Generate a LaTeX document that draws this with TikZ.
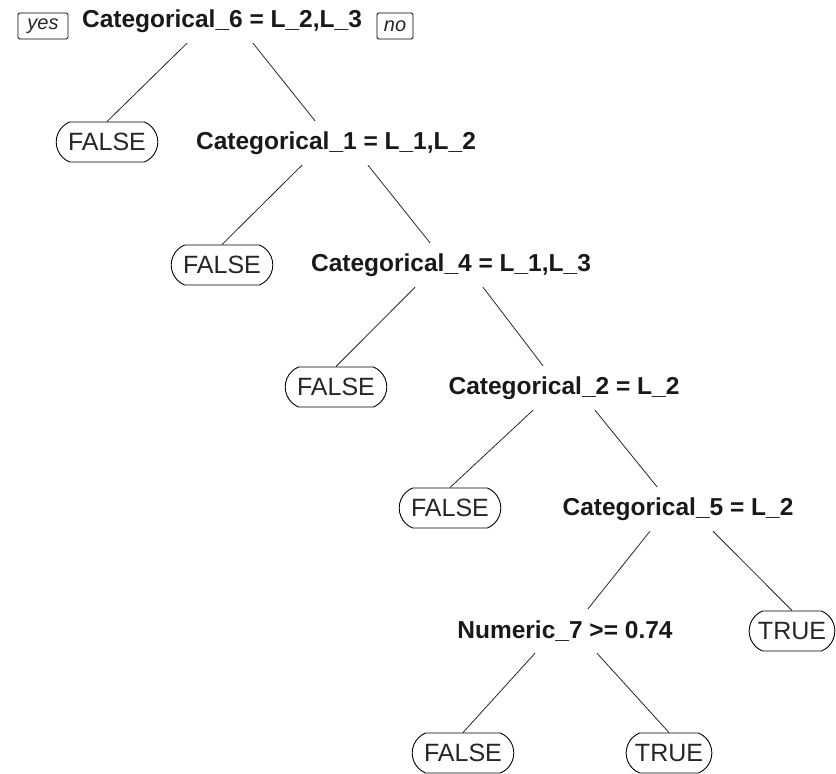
\documentclass[tikz,border=0pt]{standalone}
\usepackage{fontspec}
\setmainfont{Liberation Sans}
\usetikzlibrary{shapes.misc}
\begin{document}
\begin{tikzpicture}[x=1pt,y=-1pt,
  split/.style={font=\fontsize{24.5}{29}\selectfont\bfseries, inner sep=0pt, minimum height=44pt, text=black!90},
  leaf/.style={draw, line width=0.9pt, rounded rectangle, rounded rectangle arc length=135,
    font=\fontsize{25}{29}\selectfont, inner xsep=10pt, inner ysep=0pt, minimum height=40pt, text=black!85},
  leaft/.style={leaf, inner xsep=7pt},
  yn/.style={draw, line width=0.9pt, rounded corners=1.5pt, font=\fontsize{20}{22}\selectfont\itshape,
    minimum height=26pt, inner xsep=0pt, inner ysep=0pt, text=black!85},
  conn/.style={line width=0.8pt, black!85}
]
\useasboundingbox (0,0) rectangle (836,774);
% split nodes
\node[split] (root) at (222,21) {Categorical\_6 = L\_2,L\_3};
\node[split] (c1) at (336,143) {Categorical\_1 = L\_1,L\_2};
\node[split] (c4) at (451,265) {Categorical\_4 = L\_1,L\_3};
\node[split] (c2) at (564,388) {Categorical\_2 = L\_2};
\node[split] (c5) at (678,509) {Categorical\_5 = L\_2};
\node[split] (n7) at (565,631) {Numeric\_7 >= 0.74};
% yes / no
\node[yn, minimum width=50pt] (yes) at (43,26) {yes};
\node[yn, minimum width=36pt] (no) at (395,26) {no};
% leaves
\node[leaf] (f1) at (107,142) {FALSE};
\node[leaf] (f2) at (222,265) {FALSE};
\node[leaf] (f3) at (336,387) {FALSE};
\node[leaf] (f4) at (450,508) {FALSE};
\node[leaft] (t1) at (792,631) {TRUE};
\node[leaf] (f5) at (463,753) {FALSE};
\node[leaft] (t2) at (669,753) {TRUE};
% connectors
\draw[conn] ([xshift=-35pt]root.south) -- (f1.north);
\draw[conn] ([xshift=31pt]root.south) -- ([xshift=-21pt]c1.north);
\draw[conn] ([xshift=-34pt]c1.south) -- (f2.north);
\draw[conn] ([xshift=32pt]c1.south) -- ([xshift=-21pt]c4.north);
\draw[conn] ([xshift=-36pt]c4.south) -- (f3.north);
\draw[conn] ([xshift=32pt]c4.south) -- ([xshift=-21pt]c2.north);
\draw[conn] ([xshift=-31pt]c2.south) -- (f4.north);
\draw[conn] ([xshift=31pt]c2.south) -- ([xshift=-21pt]c5.north);
\draw[conn] ([xshift=-28pt]c5.south) -- ([xshift=23pt]n7.north);
\draw[conn] ([xshift=35pt]c5.south) -- (t1.north);
\draw[conn] ([xshift=-30pt]n7.south) -- (f5.north);
\draw[conn] ([xshift=32pt]n7.south) -- (t2.north);
\end{tikzpicture}
\end{document}
